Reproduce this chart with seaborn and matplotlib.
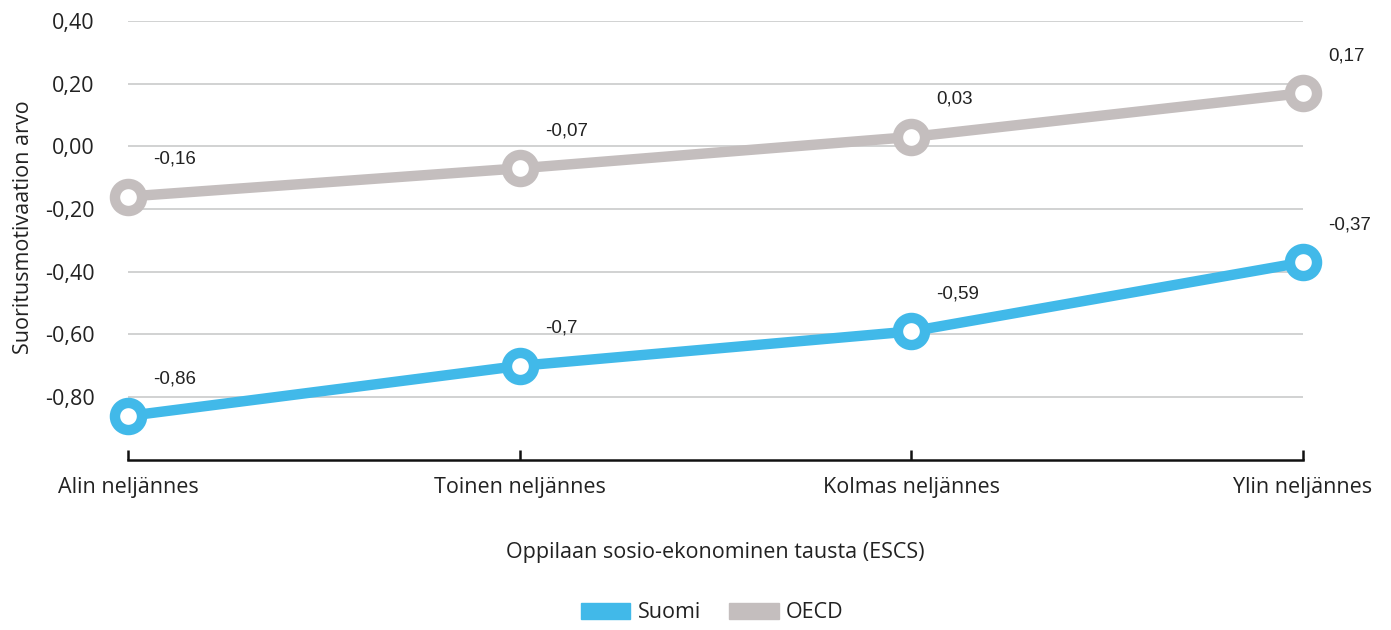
import pandas as pd
import numpy as np
import matplotlib
matplotlib.use("Agg")
import matplotlib.pyplot as plt
from matplotlib.patches import Patch
import seaborn as sns

categories = ["Alin neljännes", "Toinen neljännes", "Kolmas neljännes", "Ylin neljännes"]
suomi = [-0.86, -0.70, -0.59, -0.37]
oecd = [-0.16, -0.07, 0.03, 0.17]
series_names = ["Suomi", "OECD"]
colors = {"Suomi": "#41B9E9", "OECD": "#C4BEBE"}
yticks = [0.40, 0.20, 0.00, -0.20, -0.40, -0.60, -0.80]

df = pd.DataFrame({
    "taso": categories * 2,
    "arvo": suomi + oecd,
    "sarja": ["Suomi"] * 4 + ["OECD"] * 4,
})

sns.set_style("white")
plt.rcParams["font.family"] = ["Open Sans", "DejaVu Sans"]

fig = plt.figure(figsize=(13.91, 6.30), dpi=100)
ax = fig.add_axes([0.092, 0.27, 0.8447, 0.6967])

ax.grid(False)
for t in yticks:
    ax.axhline(t, color="#C9CBCB", lw=1.2, zorder=0)

sns.lineplot(data=df, x="taso", y="arvo", hue="sarja", hue_order=series_names,
             palette=colors, marker="o", markersize=19.5, markeredgewidth=7.5,
             markerfacecolor="white", linewidth=7.5, legend=False, ax=ax,
             sort=False)
for ln in ax.get_lines():
    if ln.get_marker() == "o":
        ln.set_markeredgecolor(ln.get_color())
        ln.set_clip_on(False)
        ln.set_zorder(3)

# data labels
for vals in (suomi, oecd):
    for i, v in enumerate(vals):
        txt = f"{v:g}".replace(".", ",")
        ax.annotate(txt, (i, v), xytext=(18, 27), textcoords="offset points",
                    ha="left", va="center", fontsize=13.5,
                    family=["Liberation Sans", "DejaVu Sans"], color="#222222")

ax.set_xlim(0, 3)
ax.set_ylim(-1.0, 0.40)
ax.set_yticks(yticks)
ax.set_yticklabels([f"{t:.2f}".replace(".", ",") for t in yticks])
ax.set_xticks(range(len(categories)))
ax.set_xticklabels(categories)

for s in ["top", "right", "left"]:
    ax.spines[s].set_visible(False)
ax.spines["bottom"].set_color("#111111")
ax.spines["bottom"].set_linewidth(1.8)
ax.tick_params(axis="y", left=False, length=0, pad=24, labelsize=15.5,
               labelcolor="#222222")
ax.tick_params(axis="x", bottom=True, direction="in", length=7, width=1.8,
               color="#111111", pad=12, labelsize=15.5, labelcolor="#222222")

ax.set_xlabel("Oppilaan sosio-ekonominen tausta (ESCS)", fontsize=15.5,
              color="#222222", labelpad=32)
ax.set_ylabel("Suoritusmotivaation arvo", fontsize=15.5, color="#222222")
ax.yaxis.set_label_coords(-0.08, 0.53)

handles = [Patch(color=colors[n], label=n) for n in series_names]
fig.legend(handles=handles, loc="center", bbox_to_anchor=(0.512, 0.027), ncol=2,
           frameon=False, fontsize=15.5, handlelength=2.3, handleheight=0.75,
           columnspacing=1.3, handletextpad=0.35, labelcolor="#222222")

fig.savefig("out.png", dpi=100)
